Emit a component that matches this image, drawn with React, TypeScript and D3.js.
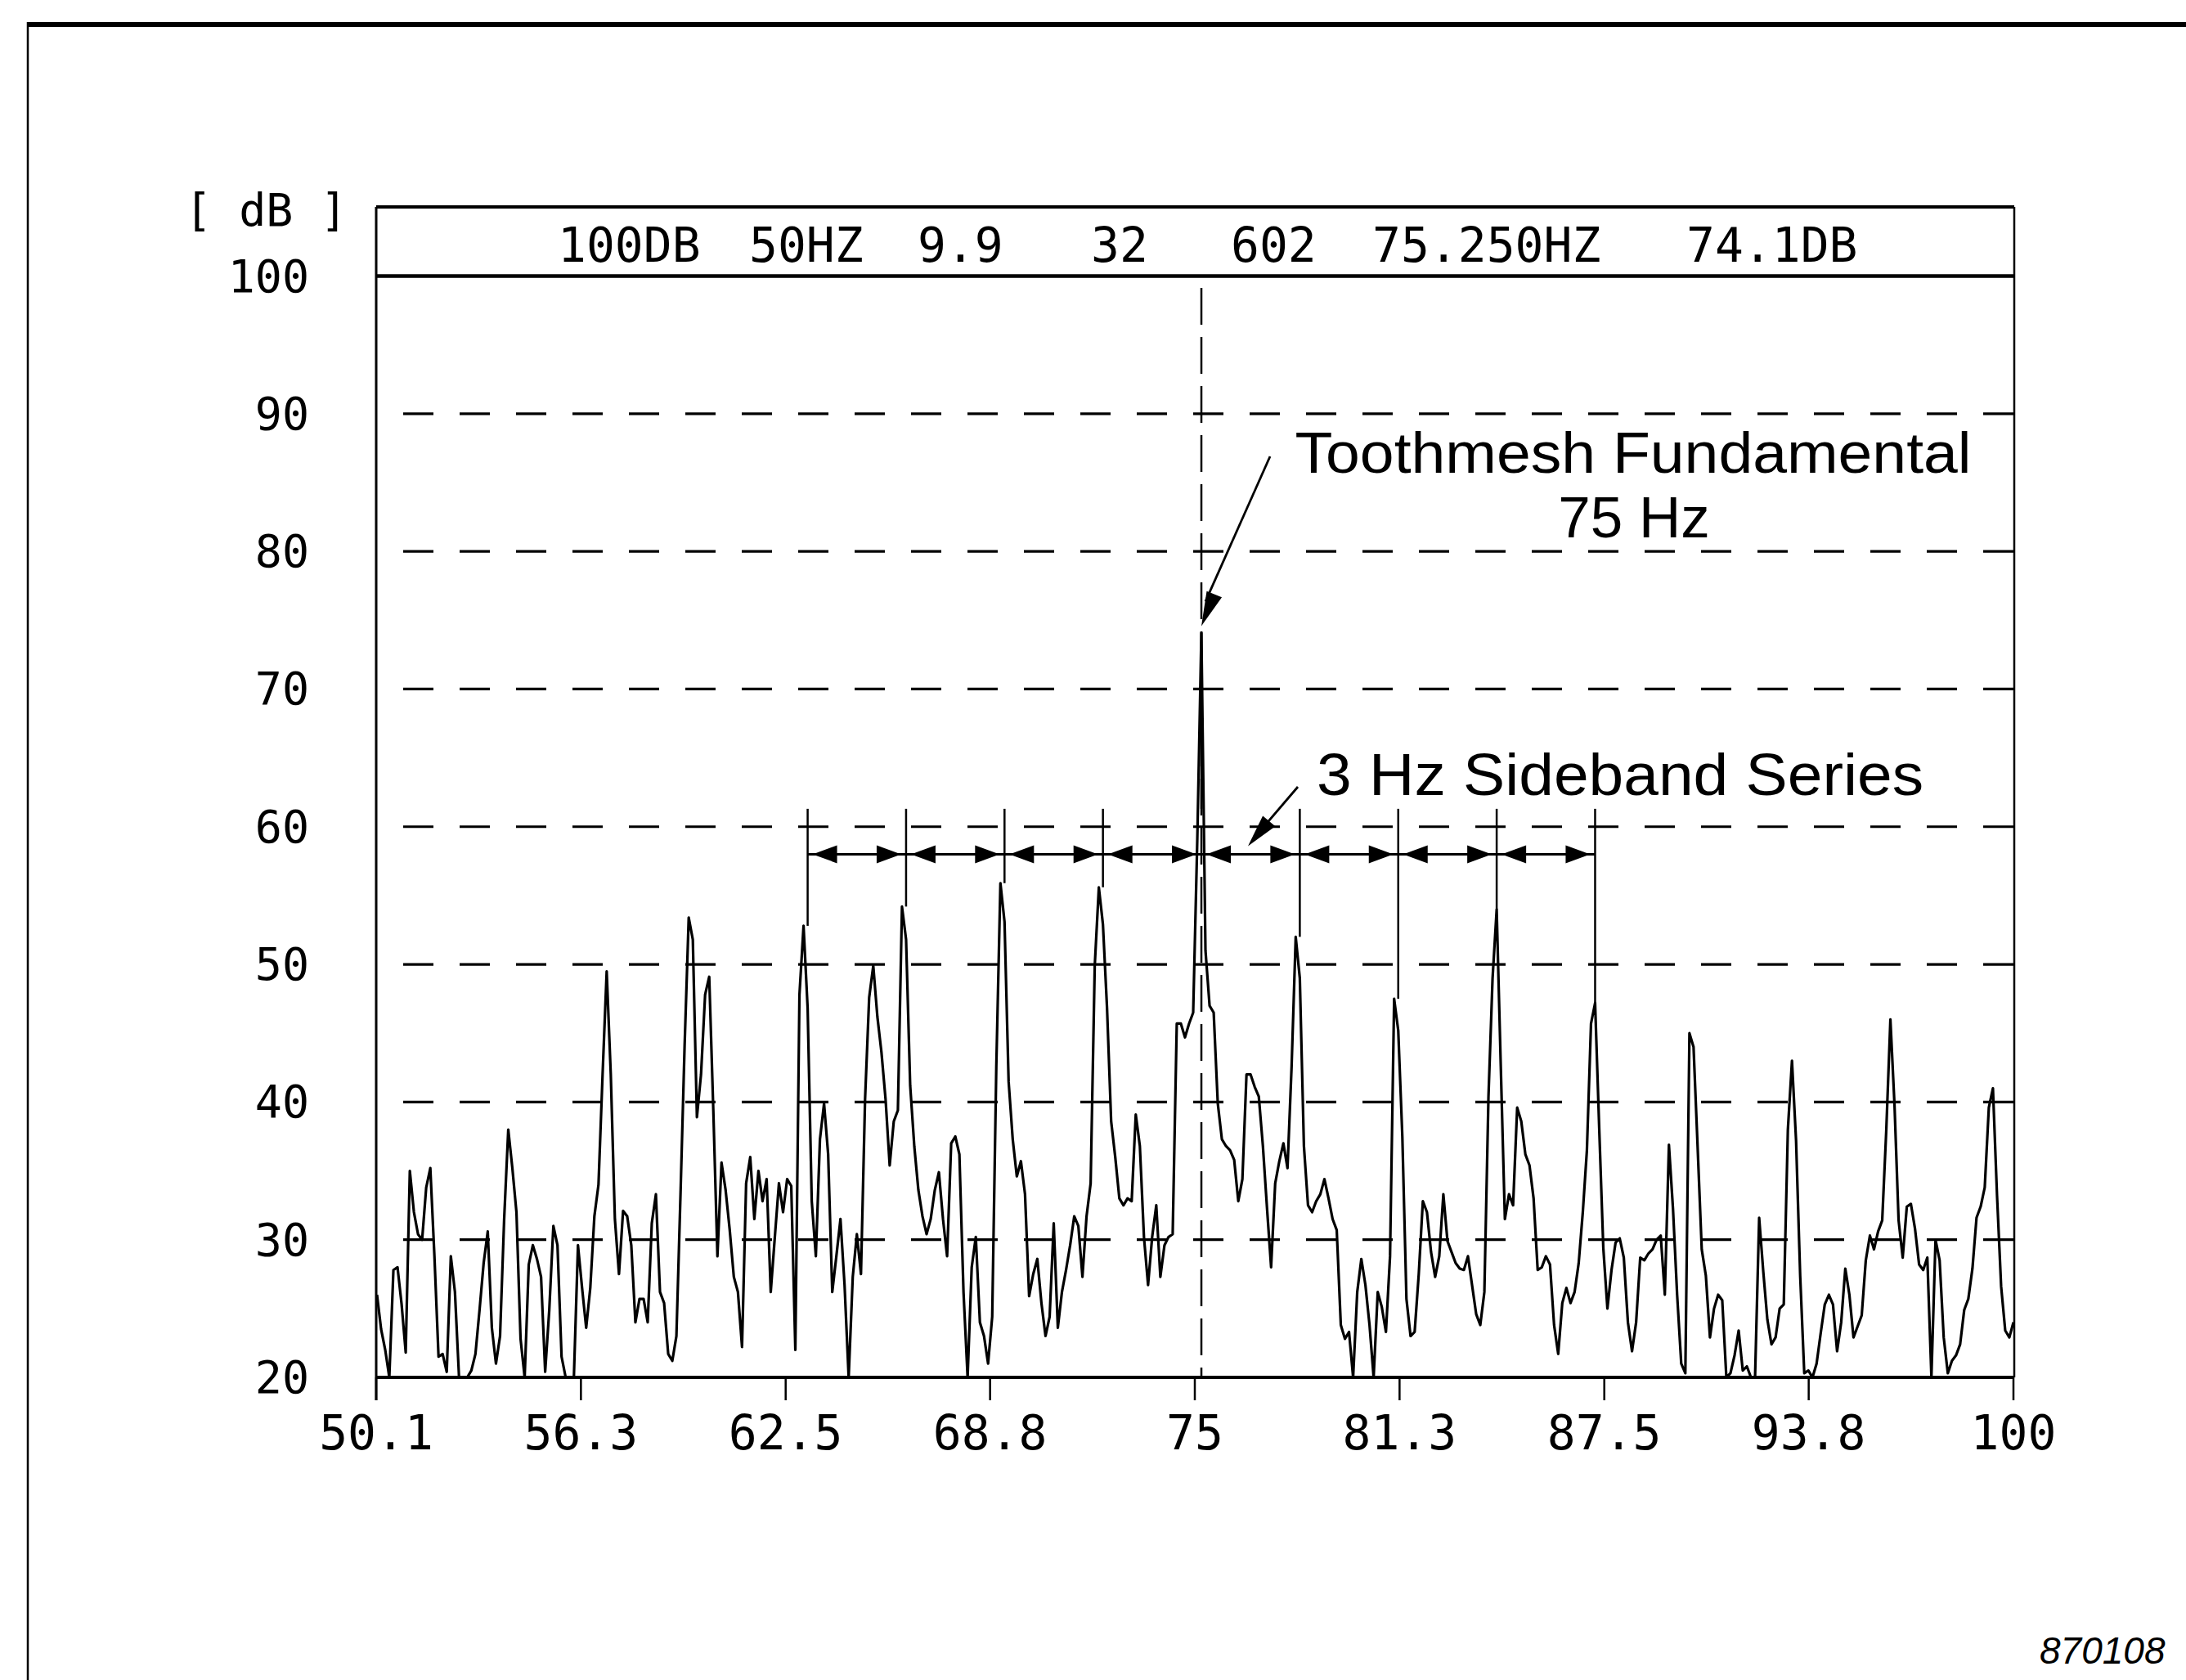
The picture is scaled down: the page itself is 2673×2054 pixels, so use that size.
import React from 'react';
import * as d3 from 'd3';

// ---------------- data ----------------
const HEADER_ITEMS = ['100DB', '50HZ', '9.9', '32', '602', '75.250HZ', '74.1DB'];
const Y_TICKS = [100, 90, 80, 70, 60, 50, 40, 30, 20];
const GRID_DB = [90, 80, 70, 60, 50, 40, 30];
const X_TICK_VALUES = [50.1, 56.34, 62.58, 68.81, 75.05, 81.29, 87.53, 93.76, 100];
const X_TICK_LABELS = ['50.1', '56.3', '62.5', '68.8', '75', '81.3', '87.5', '93.8', '100'];
const Y_UNIT = '[ dB ]';

// spectrum lines 401..800, 0.125 Hz resolution (line 602 = 75.25 Hz)
const F_START = 50.125;
const F_STEP = 0.125;
const SPECTRUM_DB = [
  26, 23.5, 22, 20, 27.8, 28, 25.3, 21.8, 35, 32,
  30.4, 30, 33.8, 35.2, 28.8, 21.5, 21.7, 20.4, 28.8, 26.2,
  20, 20, 20, 20.5, 21.7, 24.9, 28.3, 30.6, 23.6, 21,
  23, 31.5, 38, 35.2, 32, 22.8, 20, 28.2, 29.6, 28.6,
  27.3, 20.4, 24.9, 31, 29.6, 21.5, 20, 20, 20, 29.6,
  26.5, 23.6, 26.5, 31.7, 34, 42, 49.5, 42, 31.5, 27.5,
  32.1, 31.7, 29.6, 24, 25.7, 25.7, 24, 31.2, 33.3, 26.2,
  25.4, 21.7, 21.2, 23, 33.3, 44.1, 53.4, 51.8, 38.9, 42,
  47.8, 49.1, 39.4, 28.8, 35.6, 33.6, 30.7, 27.3, 26.2, 22.2,
  34.1, 36, 31.5, 35, 32.8, 34.4, 26.2, 30.2, 34.1, 32,
  34.4, 33.9, 22, 47.8, 52.8, 46.8, 32.8, 28.8, 37.3, 39.9,
  36.2, 26.2, 28.8, 31.5, 26.7, 20, 27.3, 30.4, 27.5, 40.2,
  47.6, 49.9, 46.2, 43.6, 40.2, 35.4, 38.6, 39.4, 54.2, 51.8,
  41.2, 36.8, 33.6, 31.7, 30.4, 31.5, 33.6, 34.9, 31.5, 28.8,
  37, 37.5, 36.2, 26.2, 20, 28, 30.2, 24, 23, 21,
  24.4, 42.6, 55.9, 53.1, 41.5, 37.3, 34.6, 35.7, 33.3, 25.9,
  27.5, 28.6, 25.4, 23, 24.4, 31.2, 23.6, 26.2, 27.8, 29.6,
  31.7, 31, 27.3, 31.7, 34.1, 49.9, 55.6, 52.9, 46.8, 38.6,
  36, 33, 32.5, 33, 32.8, 39.1, 36.8, 30.2, 26.7, 30.2,
  32.5, 27.3, 29.6, 30.2, 30.4, 45.7, 45.7, 44.7, 45.7, 46.5,
  59, 74.1, 51, 47, 46.5, 39.9, 37.3, 36.8, 36.5, 35.8,
  32.8, 34.4, 42, 42, 41.1, 40.4, 36.8, 32.3, 28, 34.1,
  35.7, 37, 35.2, 42.6, 52, 49, 36.8, 32.5, 32, 32.8,
  33.3, 34.4, 33, 31.5, 30.7, 23.8, 22.8, 23.3, 20, 26.2,
  28.6, 26.7, 23.8, 20, 26.2, 25.1, 23.3, 28.8, 47.5, 45.2,
  37.5, 25.7, 23, 23.3, 27.5, 32.8, 32, 29.1, 27.3, 28.8,
  33.3, 29.9, 29.1, 28.3, 27.9, 27.8, 28.8, 26.7, 24.6, 23.8,
  26.2, 40.4, 49, 54, 42.6, 31.5, 33.3, 32.5, 39.6, 38.6,
  36.2, 35.4, 33, 27.8, 28, 28.8, 28.2, 23.8, 21.7, 25.4,
  26.5, 25.4, 26.2, 28.3, 32, 36.5, 45.7, 47.2, 38.1, 29.4,
  25, 27.8, 29.8, 30.1, 28.7, 24, 21.9, 24, 28.7, 28.5,
  29, 29.3, 30, 30.3, 26, 36.9, 32.2, 26, 21, 20.3,
  45, 44, 36.7, 29.3, 27.4, 22.9, 25, 26, 25.6, 20,
  20.3, 21.6, 23.4, 20.5, 20.8, 20, 20, 31.6, 27.7, 24.2,
  22.4, 22.9, 25, 25.3, 38, 43, 37.2, 27.4, 20.3, 20.5,
  20, 21, 23.2, 25.3, 26, 25.3, 21.9, 24, 27.9, 26,
  22.9, 23.7, 24.5, 28.5, 30.3, 29.3, 30.6, 31.4, 38, 46,
  39.8, 31.4, 28.7, 32.4, 32.6, 30.8, 28.2, 27.8, 28.7, 20,
  30, 28.5, 22.9, 20.3, 21.2, 21.6, 22.4, 24.9, 25.7, 27.9,
  31.6, 32.4, 33.8, 39.6, 41, 33.2, 26.6, 23.4, 22.9, 24,
];

const FUNDAMENTAL_HZ = 75.25;
const FUNDAMENTAL_DB = 74.1;
const SIDEBAND_HZ = [63.25, 66.25, 69.25, 72.25, 75.25, 78.25, 81.25, 84.25, 87.25];
const SIDEBAND_LEVEL_DB = 58;
const SIDEBAND_TOP_DB = 61.3;

const NOTE_FUND_1 = 'Toothmesh Fundamental';
const NOTE_FUND_2 = '75 Hz';
const NOTE_SIDEBAND = '3 Hz Sideband Series';
const FIG_ID = '870108';

// ---------------- layout ----------------
const W = 2673;
const H = 2054;
const PLOT = { left: 460, right: 2462, top: 337.5, bottom: 1684, headerTop: 253 };
const HEADER_X = [682, 916, 1122, 1334, 1505, 1678, 2062];
const MONO = "'DejaVu Sans Mono', 'Liberation Mono', monospace";
const SANS = "'Liberation Sans', Arial, Helvetica, sans-serif";

function arrowHead(tipX: number, tipY: number, fromX: number, fromY: number, len: number, half: number) {
  const dx = tipX - fromX;
  const dy = tipY - fromY;
  const d = Math.hypot(dx, dy);
  const ux = dx / d;
  const uy = dy / d;
  const bx = tipX - ux * len;
  const by = tipY - uy * len;
  const px = -uy;
  const py = ux;
  return `${tipX},${tipY} ${bx + px * half},${by + py * half} ${bx - px * half},${by - py * half}`;
}

export default function App() {
  const x = d3.scaleLinear().domain([50.1, 100]).range([PLOT.left, PLOT.right]);
  const y = d3.scaleLinear().domain([20, 100]).range([PLOT.bottom, PLOT.top]);

  const pts: [number, number][] = SPECTRUM_DB.map((v, i) => [F_START + i * F_STEP, Math.max(20, v)]);
  const line = d3
    .line<[number, number]>()
    .x((d) => x(d[0]))
    .y((d) => y(d[1]));

  const peakNear = (f: number) => {
    const idx = Math.round((f - F_START) / F_STEP);
    let m = 20;
    for (let k = idx - 1; k <= idx + 1; k++) {
      if (k >= 0 && k < SPECTRUM_DB.length) m = Math.max(m, SPECTRUM_DB[k]);
    }
    return m;
  };

  const sbY = y(SIDEBAND_LEVEL_DB);
  const sbTop = y(SIDEBAND_TOP_DB);
  const fundX = x(FUNDAMENTAL_HZ);
  const fundTipY = y(FUNDAMENTAL_DB) - 8;

  const headLen = 30;
  const headHalf = 11;
  const gap = 6;

  return (
    <svg
      width={W}
      height={H}
      viewBox={`0 0 ${W} ${H}`}
      style={{ position: 'absolute', left: 0, top: 0, display: 'block', background: '#fff' }}
    >
      <rect x={0} y={0} width={W} height={H} fill="#fff" />

      {/* outer frame */}
      <line x1={34} y1={30} x2={W} y2={30} stroke="#000" strokeWidth={6} />
      <line x1={34} y1={27} x2={34} y2={H} stroke="#000" strokeWidth={2.5} />

      {/* header box */}
      <line x1={PLOT.left} y1={PLOT.headerTop} x2={PLOT.right + 1} y2={PLOT.headerTop} stroke="#000" strokeWidth={4} />
      <line x1={PLOT.left} y1={PLOT.top} x2={PLOT.right + 1} y2={PLOT.top} stroke="#000" strokeWidth={4.5} />
      {HEADER_ITEMS.map((t, i) => (
        <text key={t} x={HEADER_X[i]} y={320} fontFamily={MONO} fontSize={58} fill="#000">
          {t}
        </text>
      ))}

      {/* unit label */}
      <text x={226} y={276} fontFamily={MONO} fontSize={55} fill="#000" xmlSpace="preserve">
        {Y_UNIT}
      </text>

      {/* grid lines */}
      {GRID_DB.map((g) => (
        <line
          key={g}
          x1={PLOT.left}
          x2={PLOT.right}
          y1={y(g)}
          y2={y(g)}
          stroke="#000"
          strokeWidth={3.2}
          strokeDasharray="37 32"
          strokeDashoffset={36}
        />
      ))}

      {/* y tick labels */}
      {Y_TICKS.map((v) => (
        <text key={v} x={378} y={y(v) + 19} textAnchor="end" fontFamily={MONO} fontSize={55} fill="#000">
          {v}
        </text>
      ))}

      {/* axes */}
      <line x1={PLOT.left} y1={PLOT.headerTop} x2={PLOT.left} y2={PLOT.bottom + 28} stroke="#000" strokeWidth={3} />
      <line x1={PLOT.right + 1} y1={PLOT.headerTop} x2={PLOT.right + 1} y2={PLOT.bottom} stroke="#000" strokeWidth={2.5} />
      <line x1={PLOT.left} y1={PLOT.bottom} x2={PLOT.right + 1} y2={PLOT.bottom} stroke="#000" strokeWidth={4} />

      {X_TICK_VALUES.map((v, i) => (
        <g key={v}>
          <line x1={x(v)} x2={x(v)} y1={PLOT.bottom} y2={PLOT.bottom + 28} stroke="#000" strokeWidth={2.5} />
          <text x={x(v)} y={1772} textAnchor="middle" fontFamily={MONO} fontSize={58} fill="#000">
            {X_TICK_LABELS[i]}
          </text>
        </g>
      ))}

      {/* cursor at fundamental */}
      <line
        x1={fundX}
        x2={fundX}
        y1={352}
        y2={PLOT.bottom}
        stroke="#000"
        strokeWidth={2.5}
        strokeDasharray="45 15"
      />

      {/* spectrum trace */}
      <path d={line(pts) || ''} fill="none" stroke="#000" strokeWidth={3.2} strokeLinejoin="round" />

      {/* sideband dimension line */}
      <line
        x1={x(SIDEBAND_HZ[0])}
        x2={x(SIDEBAND_HZ[SIDEBAND_HZ.length - 1])}
        y1={sbY}
        y2={sbY}
        stroke="#000"
        strokeWidth={3}
      />
      {SIDEBAND_HZ.map((f) => (
        <line key={`m${f}`} x1={x(f)} x2={x(f)} y1={sbTop} y2={y(peakNear(f))} stroke="#000" strokeWidth={2.5} />
      ))}
      {SIDEBAND_HZ.slice(0, -1).map((f, i) => {
        const a = x(f) + gap;
        const b = x(SIDEBAND_HZ[i + 1]) - gap;
        return (
          <g key={`a${f}`}>
            <polygon points={arrowHead(a, sbY, a + 10, sbY, headLen, headHalf)} fill="#000" />
            <polygon points={arrowHead(b, sbY, b - 10, sbY, headLen, headHalf)} fill="#000" />
          </g>
        );
      })}

      {/* annotations */}
      <text x={1997} y={578} textAnchor="middle" fontFamily={SANS} fontSize={71} textLength={827} lengthAdjust="spacingAndGlyphs" fill="#000">
        {NOTE_FUND_1}
      </text>
      <text x={1998} y={657} textAnchor="middle" fontFamily={SANS} fontSize={71} fill="#000">
        {NOTE_FUND_2}
      </text>
      <line x1={1553} y1={558} x2={fundX + 5} y2={fundTipY - 30} stroke="#000" strokeWidth={2.8} />
      <polygon points={arrowHead(fundX, fundTipY, 1553, 558, 42, 10)} fill="#000" />

      <text x={1981} y={972} textAnchor="middle" fontFamily={SANS} fontSize={72} textLength={742} lengthAdjust="spacingAndGlyphs" fill="#000">
        {NOTE_SIDEBAND}
      </text>
      <line x1={1587} y1={962} x2={1534} y2={1024} stroke="#000" strokeWidth={2.8} />
      <polygon points={arrowHead(1526, sbY - 10, 1587, 962, 40, 10)} fill="#000" />

      {/* figure id */}
      <text x={2494} y={2034} fontFamily={SANS} fontStyle="italic" fontSize={46} fill="#000">
        {FIG_ID}
      </text>
    </svg>
  );
}
